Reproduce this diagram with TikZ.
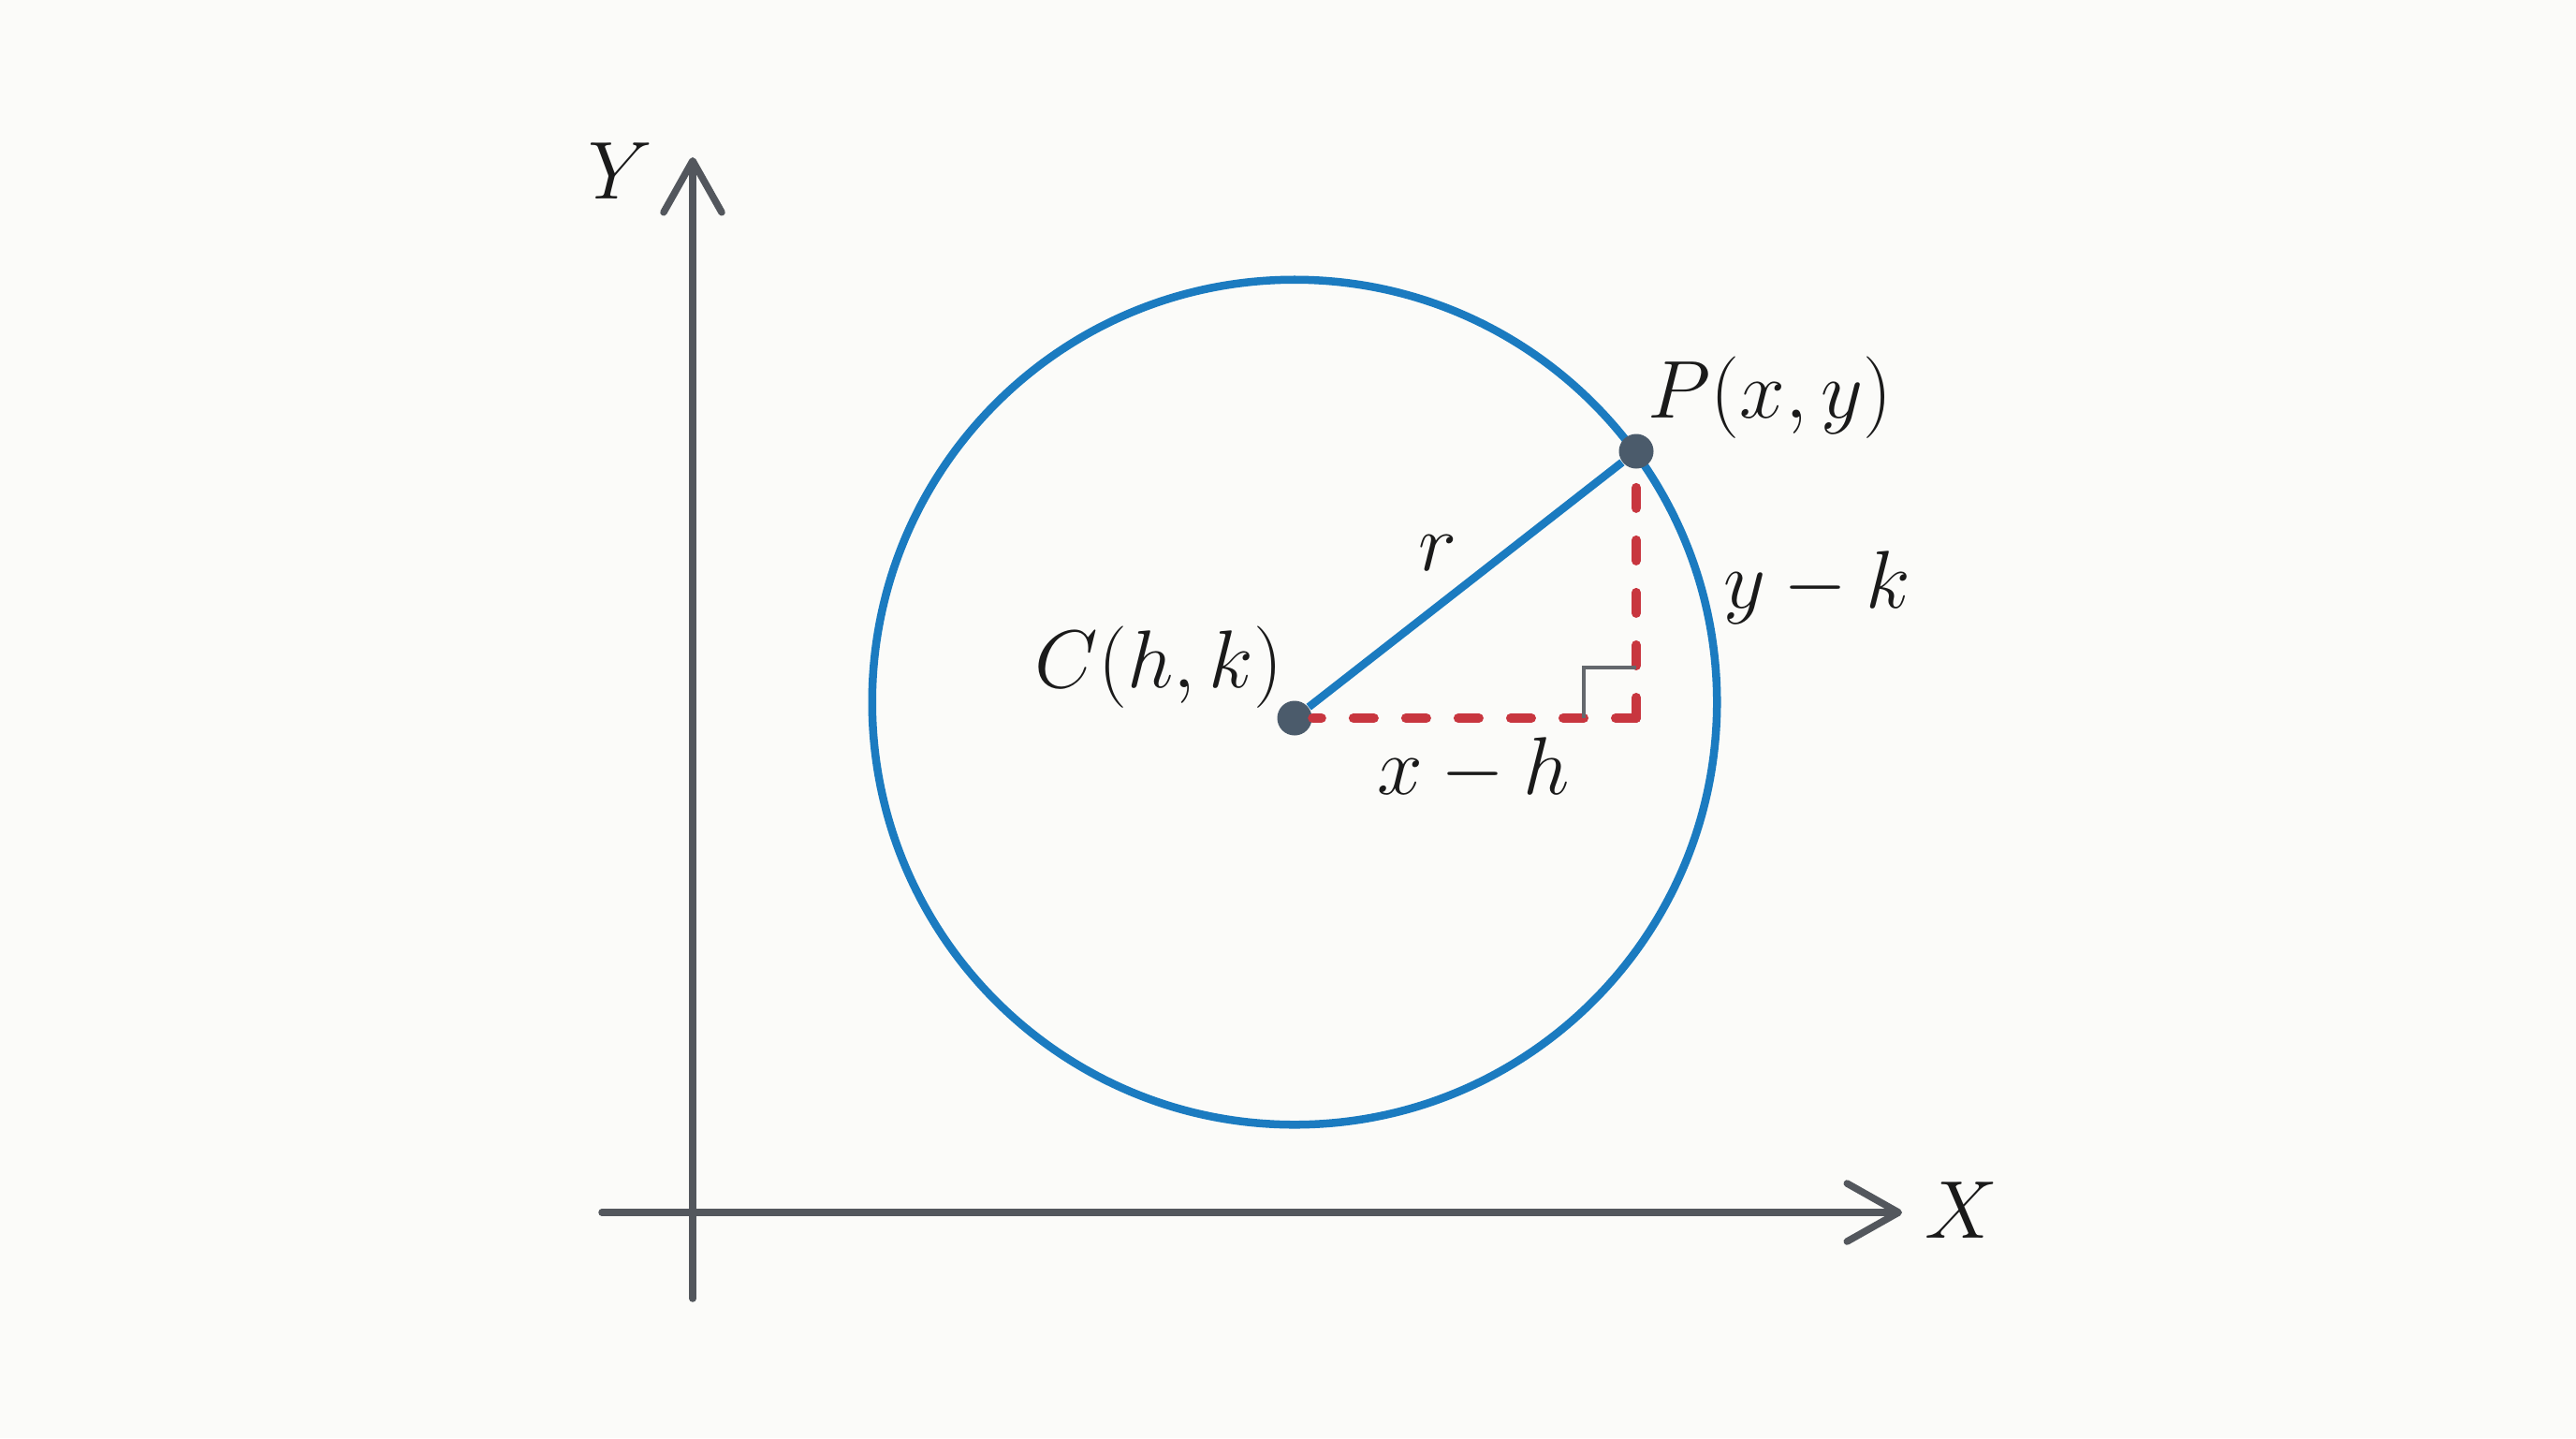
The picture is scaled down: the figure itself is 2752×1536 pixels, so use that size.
\documentclass[tikz,border=0pt]{standalone}
\usetikzlibrary{positioning,arrows.meta}
\definecolor{paper}{HTML}{FBFBF9}
\definecolor{axisgray}{HTML}{53575D}
\definecolor{ringblue}{HTML}{1B7BC0}
\definecolor{dotgray}{HTML}{4B5B6B}
\definecolor{legred}{HTML}{C8363F}
\definecolor{ink}{HTML}{1A1A1A}
\begin{document}
\begin{tikzpicture}[x=0.01cm,y=-0.01cm]

       \tikzstyle{axis} = [line width=0.075cm,draw=axisgray,line cap=round,-{Straight Barb[length=5.5mm,width=6.2mm,round]}]
       \tikzset{dot/.style = {circle, fill=dotgray, inner sep=0pt, minimum size=0.37cm}, }
       \tikzset{ring/.style = {draw=ringblue, line width=0.085cm}, }
       \tikzset{leg/.style = {draw=legred, line width=0.1cm, line cap=round, dash pattern=on 0.22cm off 0.34cm}, }
       \tikzset{sqmark/.style = {draw=axisgray!90, line width=0.035cm} }
       \tikzset{lbl/.style = {text=ink, inner sep=0pt, font=\fontsize{23}{27}\selectfont} }

       \fill[paper] (0,0) rectangle (2752,1536);

       % axes
       \coordinate (Ybot) at (740,1387);
       \coordinate (Ytop) at (740,168);
       \coordinate (Xleft) at (643,1295);
       \coordinate (Xright) at (2032,1295);
       \draw[axis] (Ybot) -- (Ytop);
       \draw[axis] (Xleft) -- (Xright);
       \node[lbl] (Ylbl) at (663,183) {$Y$};
       \node[lbl] (Xlbl) at (2095,1293) {$X$};

       % circle, centre and point
       \coordinate (Ctr) at (1383,750);
       \draw[ring] (Ctr) circle (4.51cm);
       \node[dot] (C) at (1383,767) {};
       \node[dot] (P) at (1748,482) {};
       \coordinate (Q) at (1748,767);

       \draw[leg] (Q) -- (C);
       \draw[leg] (Q) -- (P);
       \draw[sqmark] (1692,767) |- (1748,713);
       \draw[ring] (C) -- (P);

       \node[lbl] (Clbl) at (1238,713) {$C(h,k)$};
       \node[lbl] (Plbl) at (1891,425) {$P(x,y)$};
       \node[lbl] (rlbl) at (1536,591) {$r$};
       \node[lbl] (yk) at (1941,628) {$y-k$};
       \node[lbl] (xh) at (1574,822) {$x-h$};

\end{tikzpicture}
\end{document}
